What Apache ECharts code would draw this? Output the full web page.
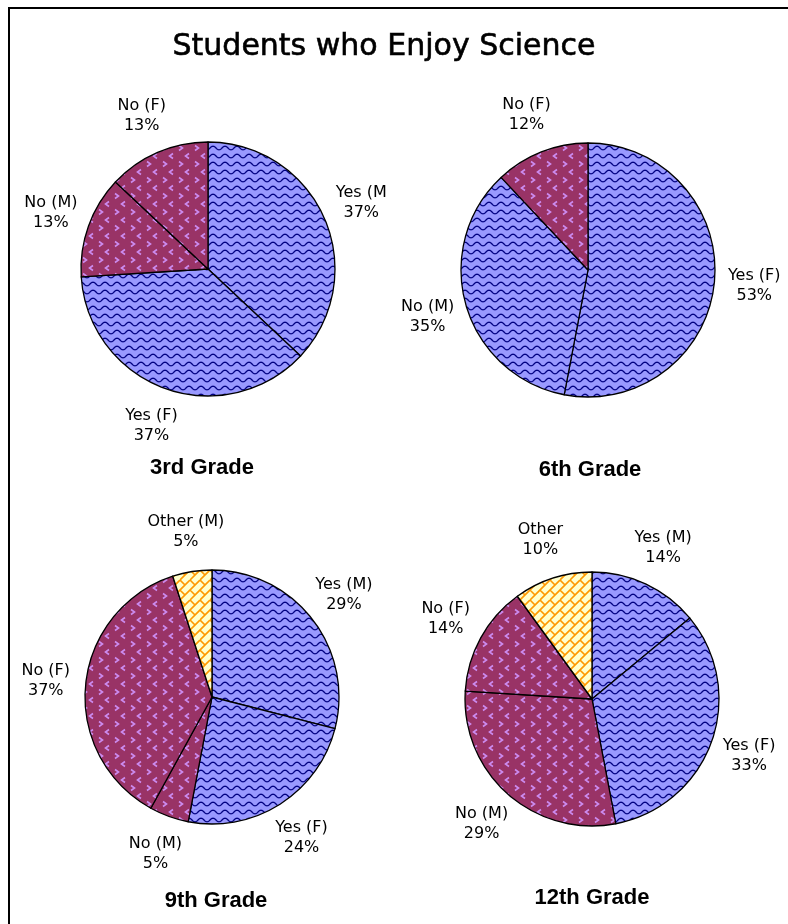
<!DOCTYPE html>
<html>
<head>
<meta charset="utf-8">
<script src="https://cdn.jsdelivr.net/npm/echarts@6/dist/echarts.min.js"></script>
<style>
  html, body { margin: 0; padding: 0; background: #ffffff; }
  #chart { width: 788px; height: 924px; }
</style>
</head>
<body>
<div id="chart"></div>
<script>
// ---- data -------------------------------------------------------------
const chartTitle = 'Students who Enjoy Science';
const gradeNames = ['3rd Grade', '6th Grade', '9th Grade', '12th Grade'];

const grade3Labels = ['Yes (M', 'Yes (F)', 'No (M)', 'No (F)'];
const grade3Values = [37, 37, 13, 13];
const grade3Fills = ['wave', 'wave', 'chevron', 'chevron'];

const grade6Labels = ['Yes (F)', 'No (M)', 'No (F)'];
const grade6Values = [53, 35, 12];
const grade6Fills = ['wave', 'wave', 'chevron'];

const grade9Labels = ['Yes (M)', 'Yes (F)', 'No (M)', 'No (F)', 'Other (M)'];
const grade9Values = [29, 24, 5, 37, 5];
const grade9Fills = ['wave', 'wave', 'chevron', 'chevron', 'brick'];

const grade12Labels = ['Yes (M)', 'Yes (F)', 'No (M)', 'No (F)', 'Other'];
const grade12Values = [14, 33, 29, 14, 10];
const grade12Fills = ['wave', 'wave', 'chevron', 'chevron', 'brick'];

// ---- layout -----------------------------------------------------------
const pieRadius = 127;
const pieCenters = [[208, 269], [588, 270], [212, 697], [592, 699]];
const gradeTitlePos = [[202, 468], [590, 470], [216, 901], [592, 898]];

// ---- fill patterns ----------------------------------------------------
function tile(w, h, bg, draw) {
  const c = document.createElement('canvas');
  c.width = w; c.height = h;
  const g = c.getContext('2d');
  g.fillStyle = bg;
  g.fillRect(0, 0, w, h);
  draw(g);
  return c;
}

const waveTile = tile(12, 8, '#9999ff', g => {
  g.strokeStyle = '#000080';
  g.lineWidth = 1.3;
  g.beginPath();
  for (let x = -1; x <= 13; x += 0.5) {
    const y = 4 + 1.8 * Math.sin(x / 12 * 2 * Math.PI);
    if (x === -1) g.moveTo(x, y); else g.lineTo(x, y);
  }
  g.stroke();
});

const chevronTile = tile(16, 16, '#993366', g => {
  g.strokeStyle = '#cc8cf0';
  g.lineWidth = 1.6;
  g.lineJoin = 'miter';
  g.beginPath();
  g.moveTo(3, 1.5); g.lineTo(6.5, 4); g.lineTo(3, 6.5);
  g.moveTo(13, 9.5); g.lineTo(9.5, 12); g.lineTo(13, 14.5);
  g.stroke();
});

const brickTile = tile(20, 20, '#ffffcc', g => {
  g.strokeStyle = '#ff9900';
  g.lineWidth = 1.6;
  g.beginPath();
  // diagonal courses  x + y = c
  for (let c = -20; c <= 60; c += 10) {
    g.moveTo(c + 20, -20); g.lineTo(c - 20, 20);
  }
  // joints between courses, staggered every other course
  for (let k = -4; k <= 8; k++) {
    const c = 10 * k;
    const off = (Math.abs(k) % 2 === 0) ? 0 : 10;
    for (let t = -80 + off; t <= 80; t += 20) {
      g.moveTo((c + t) / 2, (c - t) / 2);
      g.lineTo((c + 10 + t) / 2, (c + 10 - t) / 2);
    }
  }
  g.stroke();
});

const fills = {
  wave: { image: waveTile, repeat: 'repeat' },
  chevron: { image: chevronTile, repeat: 'repeat' },
  brick: { image: brickTile, repeat: 'repeat' }
};

// ---- series -----------------------------------------------------------
function pieSeries(labels, values, fillKeys, center) {
  return {
    type: 'pie',
    center: center,
    radius: pieRadius,
    startAngle: 90,
    clockwise: true,
    avoidLabelOverlap: false,
    animation: false,
    silent: true,
    data: labels.map((name, i) => ({
      name: name,
      value: values[i],
      itemStyle: { color: fills[fillKeys[i]] }
    })),
    itemStyle: { borderColor: '#000000', borderWidth: 1.3 },
    label: {
      show: true,
      position: 'outside',
      formatter: '{b}\n{c}%',
      fontFamily: 'DejaVu Sans',
      fontSize: 16,
      lineHeight: 20,
      color: '#000000',
      overflow: 'none'
    },
    labelLine: { show: true, length: 40, length2: 0, lineStyle: { opacity: 0 } },
    // centre each label on the slice's mid-angle, a fixed distance past the rim
    labelLayout: function (p) {
      const q = p.labelLinePoints;
      if (!q) return {};
      return { x: q[1][0], y: q[1][1], align: 'center', verticalAlign: 'middle' };
    },
    emphasis: { disabled: true }
  };
}

const chart = echarts.init(document.getElementById('chart'), null, { renderer: 'canvas' });

const graphics = [
  {
    type: 'rect',
    shape: { x: 9, y: 8, width: 820, height: 960 },
    style: { fill: null, stroke: '#000000', lineWidth: 2 },
    silent: true
  },
  {
    type: 'text',
    x: 384, y: 47,
    style: {
      text: chartTitle,
      font: '30px "DejaVu Sans"',
      fill: '#000000',
      stroke: '#000000',
      lineWidth: 0.6,
      textAlign: 'center',
      textVerticalAlign: 'middle'
    },
    silent: true
  }
].concat(gradeNames.map((t, i) => ({
  type: 'text',
  x: gradeTitlePos[i][0], y: gradeTitlePos[i][1],
  style: {
    text: t,
    font: 'bold 22px "Liberation Sans", Arial, sans-serif',
    fill: '#000000',
    textAlign: 'center',
    textVerticalAlign: 'middle'
  },
  silent: true
})));

chart.setOption({
  backgroundColor: '#ffffff',
  animation: false,
  graphic: graphics,
  series: [
    pieSeries(grade3Labels, grade3Values, grade3Fills, pieCenters[0]),
    pieSeries(grade6Labels, grade6Values, grade6Fills, pieCenters[1]),
    pieSeries(grade9Labels, grade9Values, grade9Fills, pieCenters[2]),
    pieSeries(grade12Labels, grade12Values, grade12Fills, pieCenters[3])
  ]
});
</script>
</body>
</html>
